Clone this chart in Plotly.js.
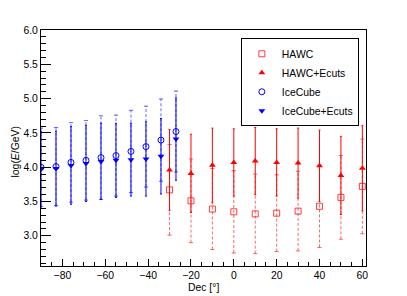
<!DOCTYPE html>
<html>
<head>
<meta charset="utf-8">
<script src="https://cdn.plot.ly/plotly-3.0.1.min.js"></script>
<style>
html,body{margin:0;padding:0;background:#fff;}
#chart{width:407px;height:296px;}
</style>
</head>
<body>
<div id="chart"></div>
<script>
// ---- data ----
const hawcDec = [-30, -20, -10, 0, 10, 20, 30, 40, 50, 60];
const hawcVal = [3.67, 3.51, 3.39, 3.35, 3.32, 3.33, 3.36, 3.43, 3.56, 3.72];
const hawcErr = [0.66, 0.61, 0.59, 0.60, 0.58, 0.56, 0.58, 0.60, 0.61, 0.69];
const hawcEcVal = [3.96, 3.91, 4.03, 4.07, 4.09, 4.07, 4.06, 4.02, 3.88, 3.985];
const hawcEcErr = [0.59, 0.57, 0.54, 0.49, 0.49, 0.49, 0.51, 0.52, 0.57, 0.62];

const icDec = [-90, -83, -76, -69, -62, -55, -48, -41, -34, -27];
const icVal = [4.00, 4.01, 4.07, 4.10, 4.14, 4.17, 4.23, 4.30, 4.395, 4.52];
const icErr = [0.57, 0.57, 0.58, 0.58, 0.61, 0.59, 0.60, 0.59, 0.60, 0.59];
const icEcVal = [3.97, 3.98, 4.025, 4.055, 4.085, 4.10, 4.11, 4.12, 4.16, 4.41];
const icEcErr = [0.55, 0.545, 0.565, 0.555, 0.555, 0.54, 0.53, 0.54, 0.55, 0.60];

const seriesNames = ['HAWC', 'HAWC+Ecuts', 'IceCube', 'IceCube+Ecuts'];

const RED = '#ff0000', BLUE = '#0000ff';
const RED_D = 'rgba(255,0,0,0.6)', BLUE_D = 'rgba(0,0,255,0.6)';

// dashed error bars built from data (vertical segments with cap markers)
function dashedBars(xs, ys, es, color) {
  const x = [], y = [];
  xs.forEach((v, i) => { x.push(v, v, null); y.push(ys[i] - es[i], ys[i] + es[i], null); });
  return {
    x: x, y: y, type: 'scatter', mode: 'lines+markers', showlegend: false, hoverinfo: 'skip',
    line: {color: color, width: 1, dash: '3px,2px'},
    marker: {symbol: 'line-ew-open', size: 3, line: {color: color, width: 1}}
  };
}

const dashHawc = dashedBars(hawcDec, hawcVal, hawcErr, RED_D);
const dashIc = dashedBars(icDec, icVal, icErr, BLUE_D);

const hawcTrace = {
  x: hawcDec, y: hawcVal, name: seriesNames[0], type: 'scatter', mode: 'markers', legendrank: 1,
  marker: {symbol: 'square-open', size: 6, color: 'rgba(255,0,0,0.75)', line: {width: 1}}
};
const hawcEcTrace = {
  x: hawcDec, y: hawcEcVal, name: seriesNames[1], type: 'scatter', mode: 'markers', legendrank: 2,
  marker: {symbol: 'triangle-up', size: 6, color: RED},
  error_y: {type: 'data', array: hawcEcErr, visible: true, color: RED, thickness: 1, width: 1}
};
const icTrace = {
  x: icDec, y: icVal, name: seriesNames[2], type: 'scatter', mode: 'markers', legendrank: 3,
  marker: {symbol: 'circle-open', size: 6, color: BLUE, line: {width: 1}}
};
const icEcTrace = {
  x: icDec, y: icEcVal, name: seriesNames[3], type: 'scatter', mode: 'markers', legendrank: 4,
  marker: {symbol: 'triangle-down', size: 6, color: BLUE},
  error_y: {type: 'data', array: icEcErr, visible: true, color: BLUE, thickness: 1, width: 1}
};

const FONT = 'Liberation Sans, Arial, Helvetica, sans-serif';

const layout = {
  width: 407, height: 296,
  margin: {l: 41, r: 41, t: 30, b: 30},
  paper_bgcolor: '#fff', plot_bgcolor: '#fff',
  font: {family: FONT, size: 10.4, color: '#000'},
  showlegend: true,
  legend: {
    x: 0.978, y: 0.965, xanchor: 'right', yanchor: 'top',
    bordercolor: '#000', borderwidth: 1, bgcolor: '#fff',
    font: {family: FONT, size: 10.4, color: '#000'},
    traceorder: 'normal', itemwidth: 30
  },
  xaxis: {
    range: [-90, 61.7], showgrid: false, zeroline: false,
    showline: true, mirror: true, linecolor: '#000', linewidth: 1,
    ticks: 'inside', ticklen: 7, tickcolor: '#000', dtick: 20, tick0: 0,
    minor: {dtick: 5, ticks: 'inside', ticklen: 4, tickcolor: '#000'},
    tickfont: {family: FONT, size: 10.4, color: '#000'}
  },
  yaxis: {
    range: [2.56, 6.0], showgrid: false, zeroline: false,
    showline: true, mirror: true, linecolor: '#000', linewidth: 1,
    ticks: 'inside', ticklen: 10, tickcolor: '#000', dtick: 0.5, tick0: 0,
    tickformat: '.1f',
    minor: {dtick: 0.1, ticks: 'inside', ticklen: 5, tickcolor: '#000'},
    tickfont: {family: FONT, size: 10.4, color: '#000'}
  },
  annotations: [
    {text: 'Dec [°]', xref: 'paper', yref: 'paper', x: 0.5, y: -0.09,
     xanchor: 'center', yanchor: 'middle', showarrow: false,
     font: {family: FONT, size: 10.4, color: '#000'}},
    {text: 'log(<i>E</i>/GeV)', xref: 'paper', yref: 'paper', x: -0.08, y: 0.481,
     xanchor: 'center', yanchor: 'middle', textangle: -90, showarrow: false,
     font: {family: FONT, size: 10.4, color: '#000'}}
  ]
};

Plotly.newPlot('chart', [dashHawc, dashIc, hawcEcTrace, icEcTrace, hawcTrace, icTrace], layout,
  {staticPlot: true, displayModeBar: false});
</script>
</body>
</html>
